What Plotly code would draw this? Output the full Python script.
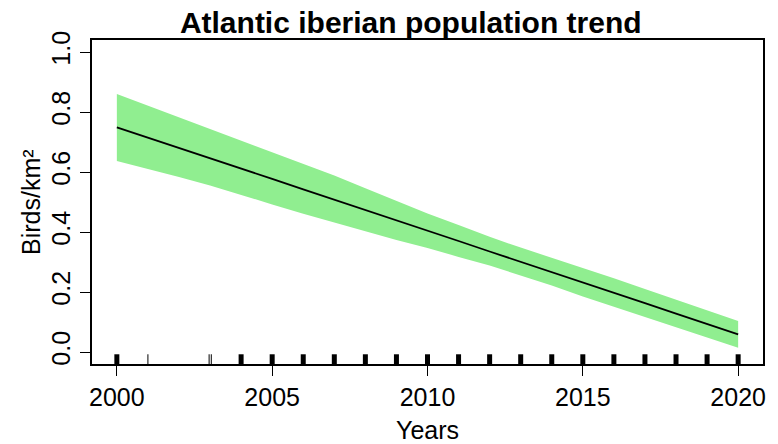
import plotly.graph_objects as go

# Fitted trend (birds per km²) and its confidence band, by year
years = [2000, 2001, 2002, 2003, 2004, 2005, 2006, 2007, 2008, 2009, 2010,
         2011, 2012, 2013, 2014, 2015, 2016, 2017, 2018, 2019, 2020]
fit = [0.749, 0.715, 0.680, 0.646, 0.611, 0.577, 0.542, 0.508, 0.473, 0.439, 0.404,
       0.370, 0.335, 0.301, 0.266, 0.232, 0.197, 0.163, 0.128, 0.094, 0.059]
upper = [0.860, 0.821, 0.782, 0.743, 0.704, 0.667, 0.628, 0.588, 0.546, 0.503, 0.462,
         0.423, 0.384, 0.348, 0.314, 0.281, 0.246, 0.210, 0.174, 0.139, 0.103]
lower = [0.637, 0.610, 0.583, 0.555, 0.524, 0.492, 0.461, 0.432, 0.402, 0.373, 0.347,
         0.317, 0.288, 0.255, 0.222, 0.185, 0.150, 0.116, 0.082, 0.048, 0.014]

# Survey years of the observations (rug) and number of records in each
survey_years = [2000, 2001, 2002.97, 2003.04, 2004, 2005, 2006, 2007, 2008, 2009,
                2010, 2011, 2012, 2013, 2014, 2015, 2016, 2017, 2018, 2019, 2020]
survey_counts = [12, 1, 1, 1, 10, 12, 12, 12, 12, 12,
                 12, 12, 12, 12, 12, 12, 12, 12, 12, 12, 12]

x_ticks = [2000, 2005, 2010, 2015, 2020]
y_ticks = [0.0, 0.2, 0.4, 0.6, 0.8, 1.0]

FONT = "Liberation Sans, Arial, Helvetica, sans-serif"
x_range = [1999.2, 2020.8]
y_range = [-0.04, 1.04]

fig = go.Figure()

# Confidence band
fig.add_trace(go.Scatter(
    x=years + years[::-1], y=upper + lower[::-1],
    fill="toself", fillcolor="#90EE90", mode="lines",
    line=dict(width=0, color="#90EE90"), hoverinfo="skip", showlegend=False))

# Fitted line
fig.add_trace(go.Scatter(
    x=years, y=fit, mode="lines", line=dict(color="black", width=1.8),
    showlegend=False))

# Rug along the bottom edge: dense years drawn thick, single records thin
rug_top = y_range[0] + 0.03 * (y_range[1] - y_range[0])
for dense in (True, False):
    xs, ys = [], []
    for yr, n in zip(survey_years, survey_counts):
        if (n > 1) == dense:
            xs += [yr, yr, None]
            ys += [y_range[0], rug_top, None]
    fig.add_trace(go.Scatter(
        x=xs, y=ys, mode="lines",
        line=dict(color="black", width=5 if dense else 1),
        hoverinfo="skip", showlegend=False))

axis_common = dict(
    showline=True, mirror=True, linecolor="black", linewidth=1.6,
    ticks="outside", ticklen=10, tickwidth=1.4, tickcolor="black",
    showgrid=False, zeroline=False, automargin=False,
    tickfont=dict(family=FONT, size=25, color="black"),
)

label_font = dict(family=FONT, size=25, color="black")

fig.update_layout(
    width=778, height=444,
    margin=dict(l=92, r=15, t=40, b=80),
    paper_bgcolor="white", plot_bgcolor="white",
    title=dict(text="<b>Atlantic iberian population trend</b>",
               font=dict(family=FONT, size=30, color="black"),
               x=0.475, xref="paper", xanchor="center",
               y=1 - 22 / 444, yref="container", yanchor="middle"),
    xaxis=dict(range=x_range, tickvals=x_ticks,
               ticktext=[str(v) for v in x_ticks], **axis_common),
    yaxis=dict(range=y_range, tickvals=y_ticks,
               ticktext=[f"{v:.1f}" for v in y_ticks], tickangle=-90,
               **axis_common),
    annotations=[
        dict(text="Years", font=label_font, showarrow=False,
             xref="paper", yref="paper", x=0.5, y=-0.204,
             xanchor="center", yanchor="middle"),
        dict(text="Birds/km²", font=label_font, showarrow=False, textangle=-90,
             xref="paper", yref="paper", x=-0.091, y=0.5,
             xanchor="center", yanchor="middle"),
    ],
)

fig.write_html("out.html")
